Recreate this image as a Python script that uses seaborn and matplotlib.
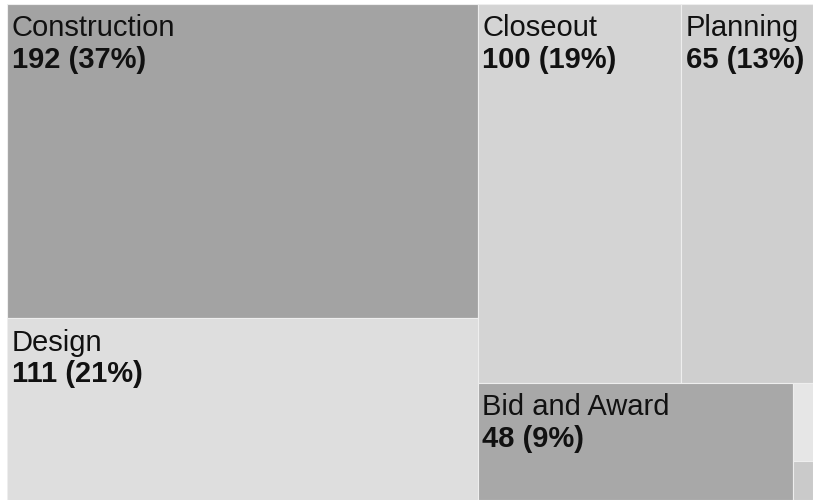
import matplotlib
matplotlib.use("Agg")
import matplotlib.pyplot as plt
import seaborn as sns

sns.set_theme(style="white")
plt.rcParams['font.family'] = ['Liberation Sans', 'DejaVu Sans']

categories = ["Construction", "Design", "Closeout", "Planning", "Bid and Award", "Other 1", "Other 2"]
values = [192, 111, 100, 65, 48, 2, 1]
percent_labels = ["37%", "21%", "19%", "13%", "9%", "", ""]
colors = ["#a3a3a3", "#dedede", "#d4d4d4", "#cfcfcf", "#a8a8a8", "#e6e6e6", "#cacaca"]

# Layout: left column (Construction, Design) stacked; right column:
# top row (Closeout | Planning), bottom row (Bid and Award | small ones stacked)
total = float(sum(values))
W, H = 1.0, 1.0
left_w = (values[0] + values[1]) / total * W
right_w = W - left_w
rects = {}
h0 = values[0] / (values[0] + values[1]) * H
rects[0] = (0, H - h0, left_w, h0)
rects[1] = (0, 0, left_w, H - h0)
right_total = sum(values[2:])
top_h = (values[2] + values[3]) / right_total * H
w2 = values[2] / (values[2] + values[3]) * right_w
rects[2] = (left_w, H - top_h, w2, top_h)
rects[3] = (left_w + w2, H - top_h, right_w - w2, top_h)
bot_h = H - top_h
bot_total = values[4] + values[5] + values[6]
w4 = values[4] / bot_total * right_w
rects[4] = (left_w, 0, w4, bot_h)
small_w = right_w - w4
h5 = values[5] / (values[5] + values[6]) * bot_h
rects[5] = (left_w + w4, bot_h - h5, small_w, h5)
rects[6] = (left_w + w4, 0, small_w, bot_h - h5)

fig = plt.figure(figsize=(8.13, 5.03), dpi=100)
ax = fig.add_axes([7 / 813, 3 / 503, 806 / 813, 496 / 503])
for i, cat in enumerate(categories):
    x, y, w, h = rects[i]
    ax.bar(x, h, width=w, bottom=y, align="edge", color=colors[i],
           edgecolor="#eeeeee", linewidth=0.8)
    if percent_labels[i]:
        ax.text(x + 0.006, y + h - 0.021, cat, ha="left", va="top",
                fontsize=21, color="#111111")
        ax.text(x + 0.006, y + h - 0.084, f"{values[i]} ({percent_labels[i]})",
                ha="left", va="top", fontsize=21, fontweight="bold", color="#111111")

ax.set_xlim(0, W)
ax.set_ylim(0, H)
ax.axis("off")
fig.savefig("out.png", dpi=100, facecolor="white")
